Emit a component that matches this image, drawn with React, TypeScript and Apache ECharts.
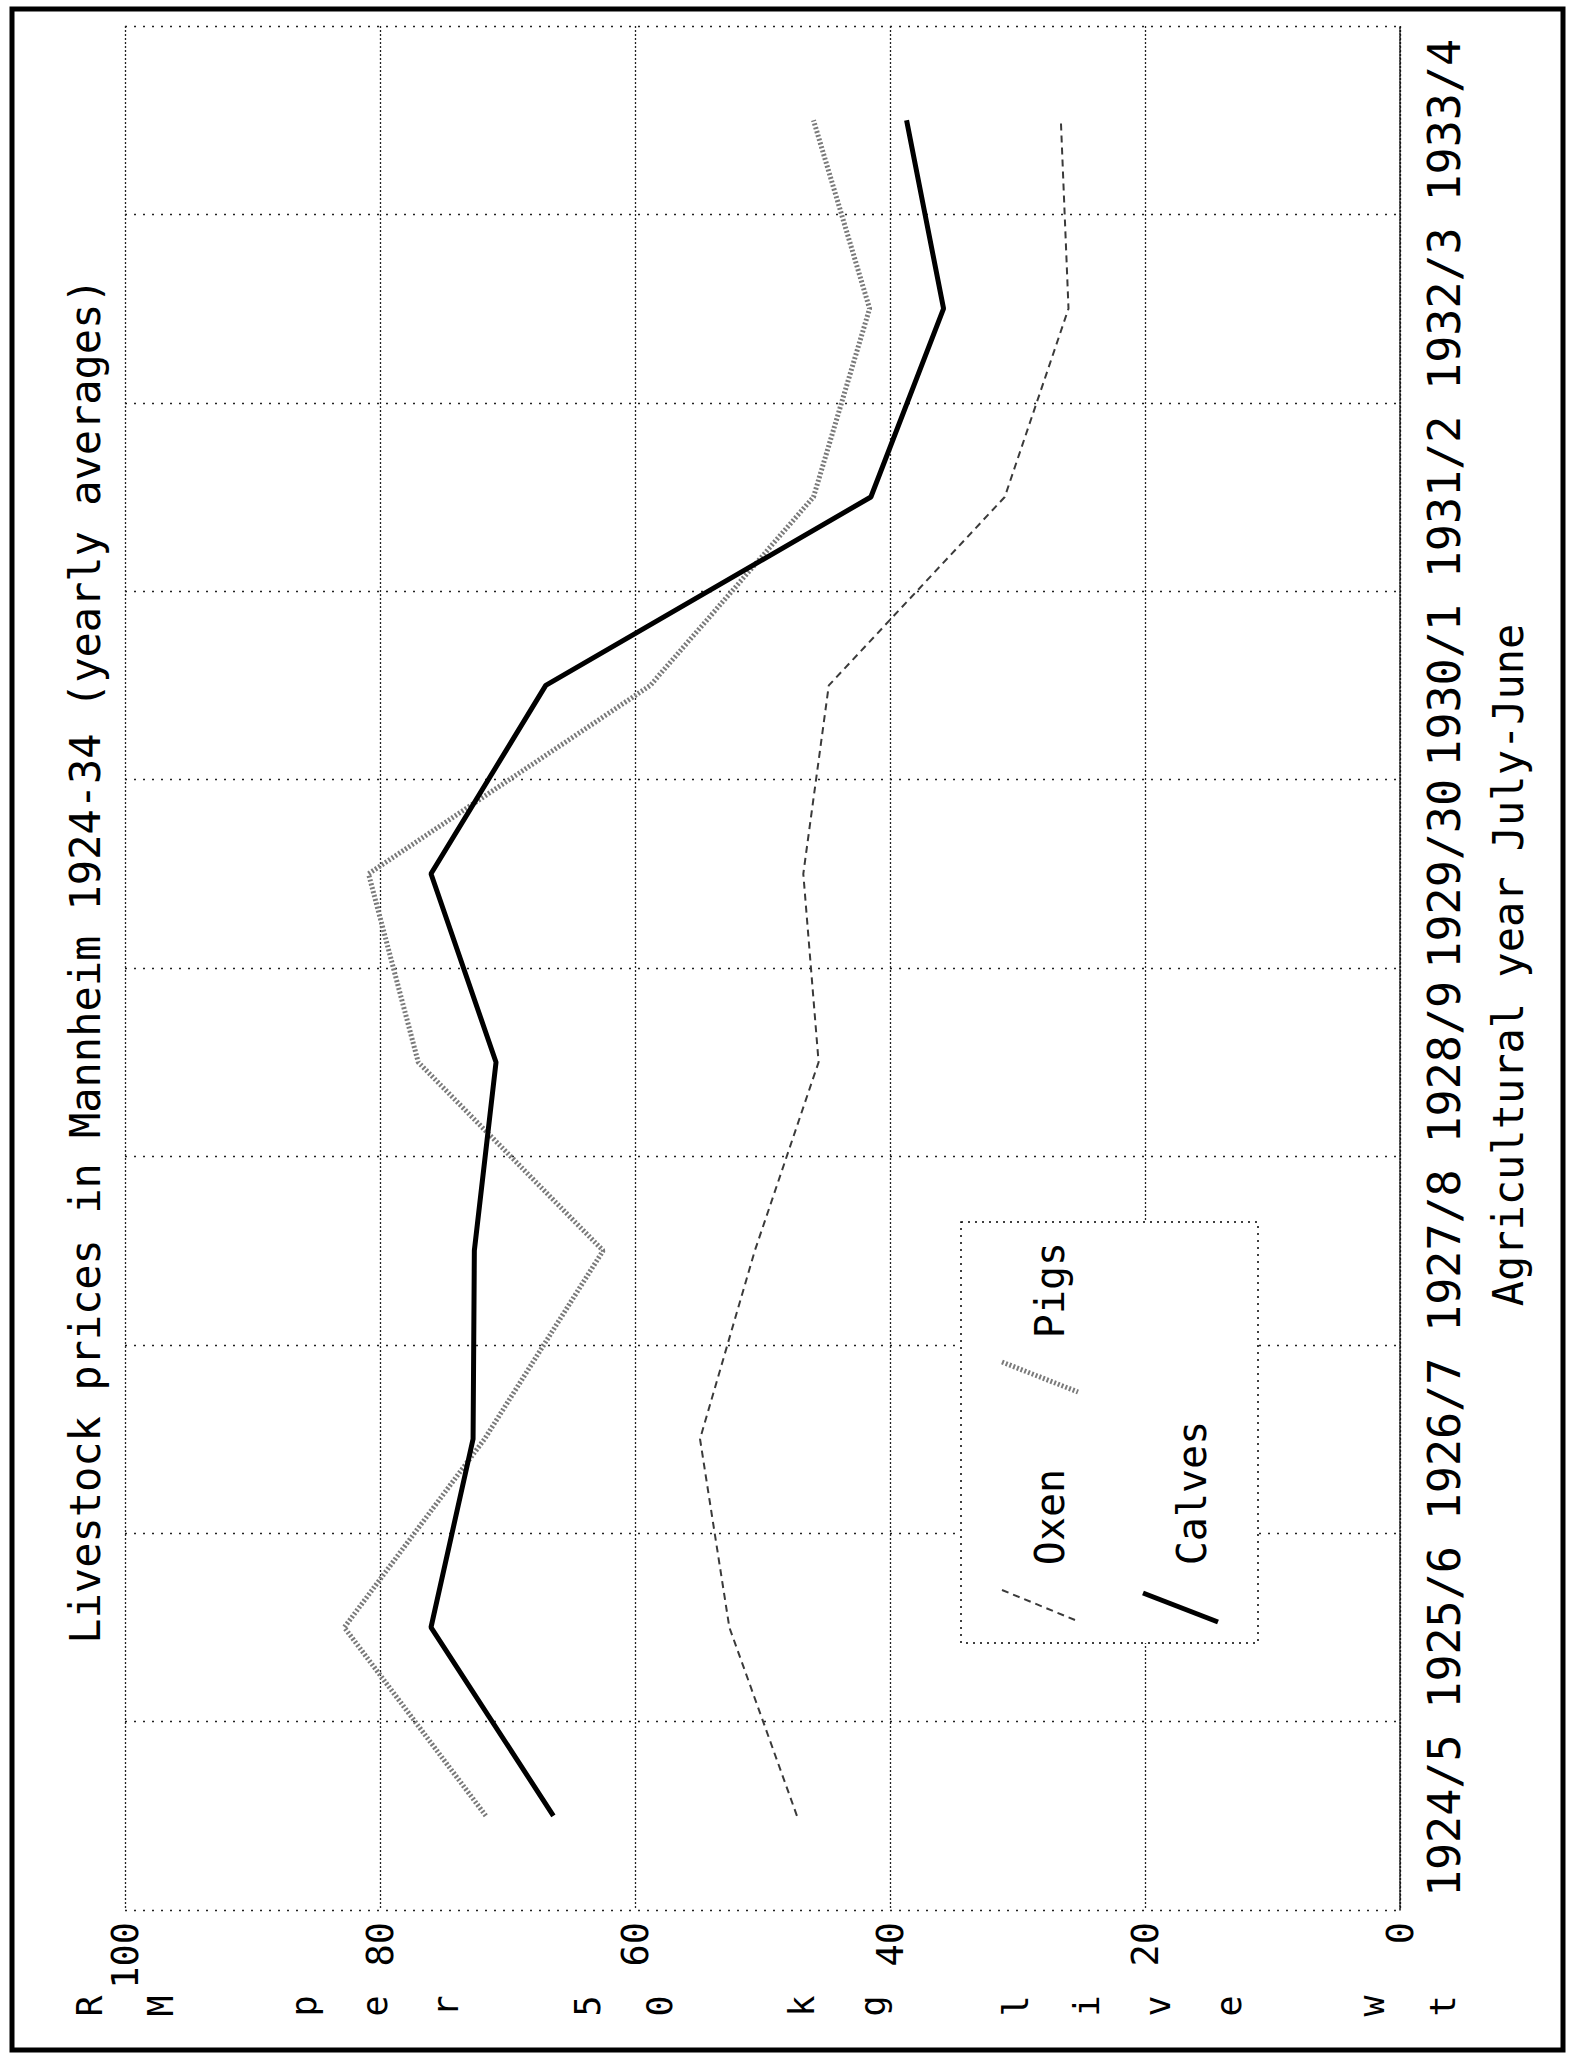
import React, { useEffect, useRef } from "react";
import * as echarts from "echarts";

const categories = ["1924/5", "1925/6", "1926/7", "1927/8", "1928/9", "1929/30", "1930/1", "1931/2", "1932/3", "1933/4"];
const oxen = [47.3, 52.6, 54.9, 50.6, 45.6, 46.8, 44.8, 31.0, 26.0, 26.6];
const pigs = [71.7, 82.8, 71.8, 62.5, 77.0, 80.9, 58.8, 46.0, 41.6, 46.0];
const calves = [66.4, 76.0, 72.7, 72.6, 70.9, 76.0, 67.0, 41.5, 35.8, 38.7];
const seriesNames = ["Oxen", "Pigs", "Calves"];
const titleText = "Livestock prices in Mannheim 1924-34 (yearly averages)";
const categoryAxisName = "Agricultural year July-June";
const valueAxisName = "RM per 50 kg live wt";

const W = 1575;
const H = 2056;
const FONT = "'DejaVu Sans Mono', monospace";

const oxenStyle = { color: "#3a3a3a", width: 2, type: [7, 5] as number[] };
const pigsStyle = { color: "#7a7a7a", width: 5, type: [2, 2] as number[] };
const calvesStyle = { color: "#000000", width: 5, type: "solid" as const };

export default function App() {
  const ref = useRef<HTMLDivElement>(null);
  useEffect(() => {
    document.body.style.margin = "0";
    if (!ref.current) return;
    const chart = echarts.init(ref.current, undefined, { renderer: "svg" });

    const rot = Math.PI / 2;
    const graphics: any[] = [];
    // outer frame
    graphics.push({
      type: "rect",
      z: 0,
      shape: { x: 12, y: 9, width: 1551, height: 2041 },
      style: { fill: "none", stroke: "#000", lineWidth: 5 },
    });
    // title
    graphics.push({
      type: "text",
      x: 85,
      y: 961,
      rotation: rot,
      style: { text: titleText, fontFamily: FONT, fontSize: 42, fill: "#000", align: "center", verticalAlign: "middle" },
    });
    // category axis name
    graphics.push({
      type: "text",
      x: 1508,
      y: 965,
      rotation: rot,
      style: { text: categoryAxisName, fontFamily: FONT, fontSize: 42, fill: "#000", align: "center", verticalAlign: "middle" },
    });
    // value axis name, one rotated letter per character slot
    const chars = valueAxisName.split("");
    chars.forEach((ch, i) => {
      if (ch === " ") return;
      graphics.push({
        type: "text",
        x: 90 + i * 71.2,
        y: 2006,
        rotation: rot,
        style: { text: ch, fontFamily: FONT, fontSize: 35, fill: "#000", align: "center", verticalAlign: "middle" },
      });
    });
    // legend
    graphics.push({
      type: "rect",
      z: 20,
      shape: { x: 961, y: 1222, width: 297, height: 421 },
      style: { fill: "#fff", stroke: "#000", lineWidth: 1.5, lineDash: [2, 5] },
    });
    const legendItems = [
      { name: seriesNames[0], tx: 1050, ty: 1517, l: [1002, 1590, 1075, 1620], s: oxenStyle },
      { name: seriesNames[1], tx: 1050, ty: 1290, l: [1002, 1362, 1078, 1392], s: pigsStyle },
      { name: seriesNames[2], tx: 1192, ty: 1493, l: [1143, 1593, 1218, 1622], s: calvesStyle },
    ];
    legendItems.forEach((it) => {
      graphics.push({
        type: "text",
        z: 21,
        x: it.tx,
        y: it.ty,
        rotation: rot,
        style: { text: it.name, fontFamily: FONT, fontSize: 40, fill: "#000", align: "center", verticalAlign: "middle" },
      });
      graphics.push({
        type: "line",
        z: 21,
        shape: { x1: it.l[0], y1: it.l[1], x2: it.l[2], y2: it.l[3] },
        style: {
          stroke: it.s.color,
          lineWidth: it.s.width,
          lineDash: Array.isArray(it.s.type) ? it.s.type : null,
        },
      });
    });

    const mkSeries = (name: string, data: number[], st: any, z: number) => ({
      name,
      type: "line",
      data,
      z,
      symbol: "none",
      smooth: false,
      lineStyle: { color: st.color, width: st.width, type: st.type },
      itemStyle: { color: st.color },
    });

    chart.setOption({
      animation: false,
      backgroundColor: "#fff",
      grid: { left: 125, right: 175, top: 26, bottom: 146, containLabel: false },
      xAxis: {
        type: "value",
        min: 0,
        max: 100,
        interval: 20,
        inverse: true,
        position: "bottom",
        axisLine: { show: false },
        axisTick: { show: false },
        axisLabel: { rotate: 90, margin: 12, fontFamily: FONT, fontSize: 37, color: "#000" },
        splitLine: { show: true, lineStyle: { color: "#222", width: 1.3, type: [2, 2] } },
      },
      yAxis: {
        type: "category",
        data: categories,
        position: "right",
        boundaryGap: true,
        axisLine: { show: true, lineStyle: { color: "#111", width: 1.5, type: [2, 1] } },
        axisTick: { show: false },
        axisLabel: { rotate: 90, margin: 22, fontFamily: FONT, fontSize: 45, color: "#000", interval: 0 },
        splitLine: { show: true, interval: 0, lineStyle: { color: "#222", width: 1.3, type: [2, 7] } },
      },
      series: [
        mkSeries(seriesNames[0], oxen, oxenStyle, 3),
        mkSeries(seriesNames[1], pigs, pigsStyle, 4),
        mkSeries(seriesNames[2], calves, calvesStyle, 5),
      ],
      graphic: { elements: graphics },
    });
    return () => chart.dispose();
  }, []);
  return <div ref={ref} style={{ width: W, height: H }} />;
}
